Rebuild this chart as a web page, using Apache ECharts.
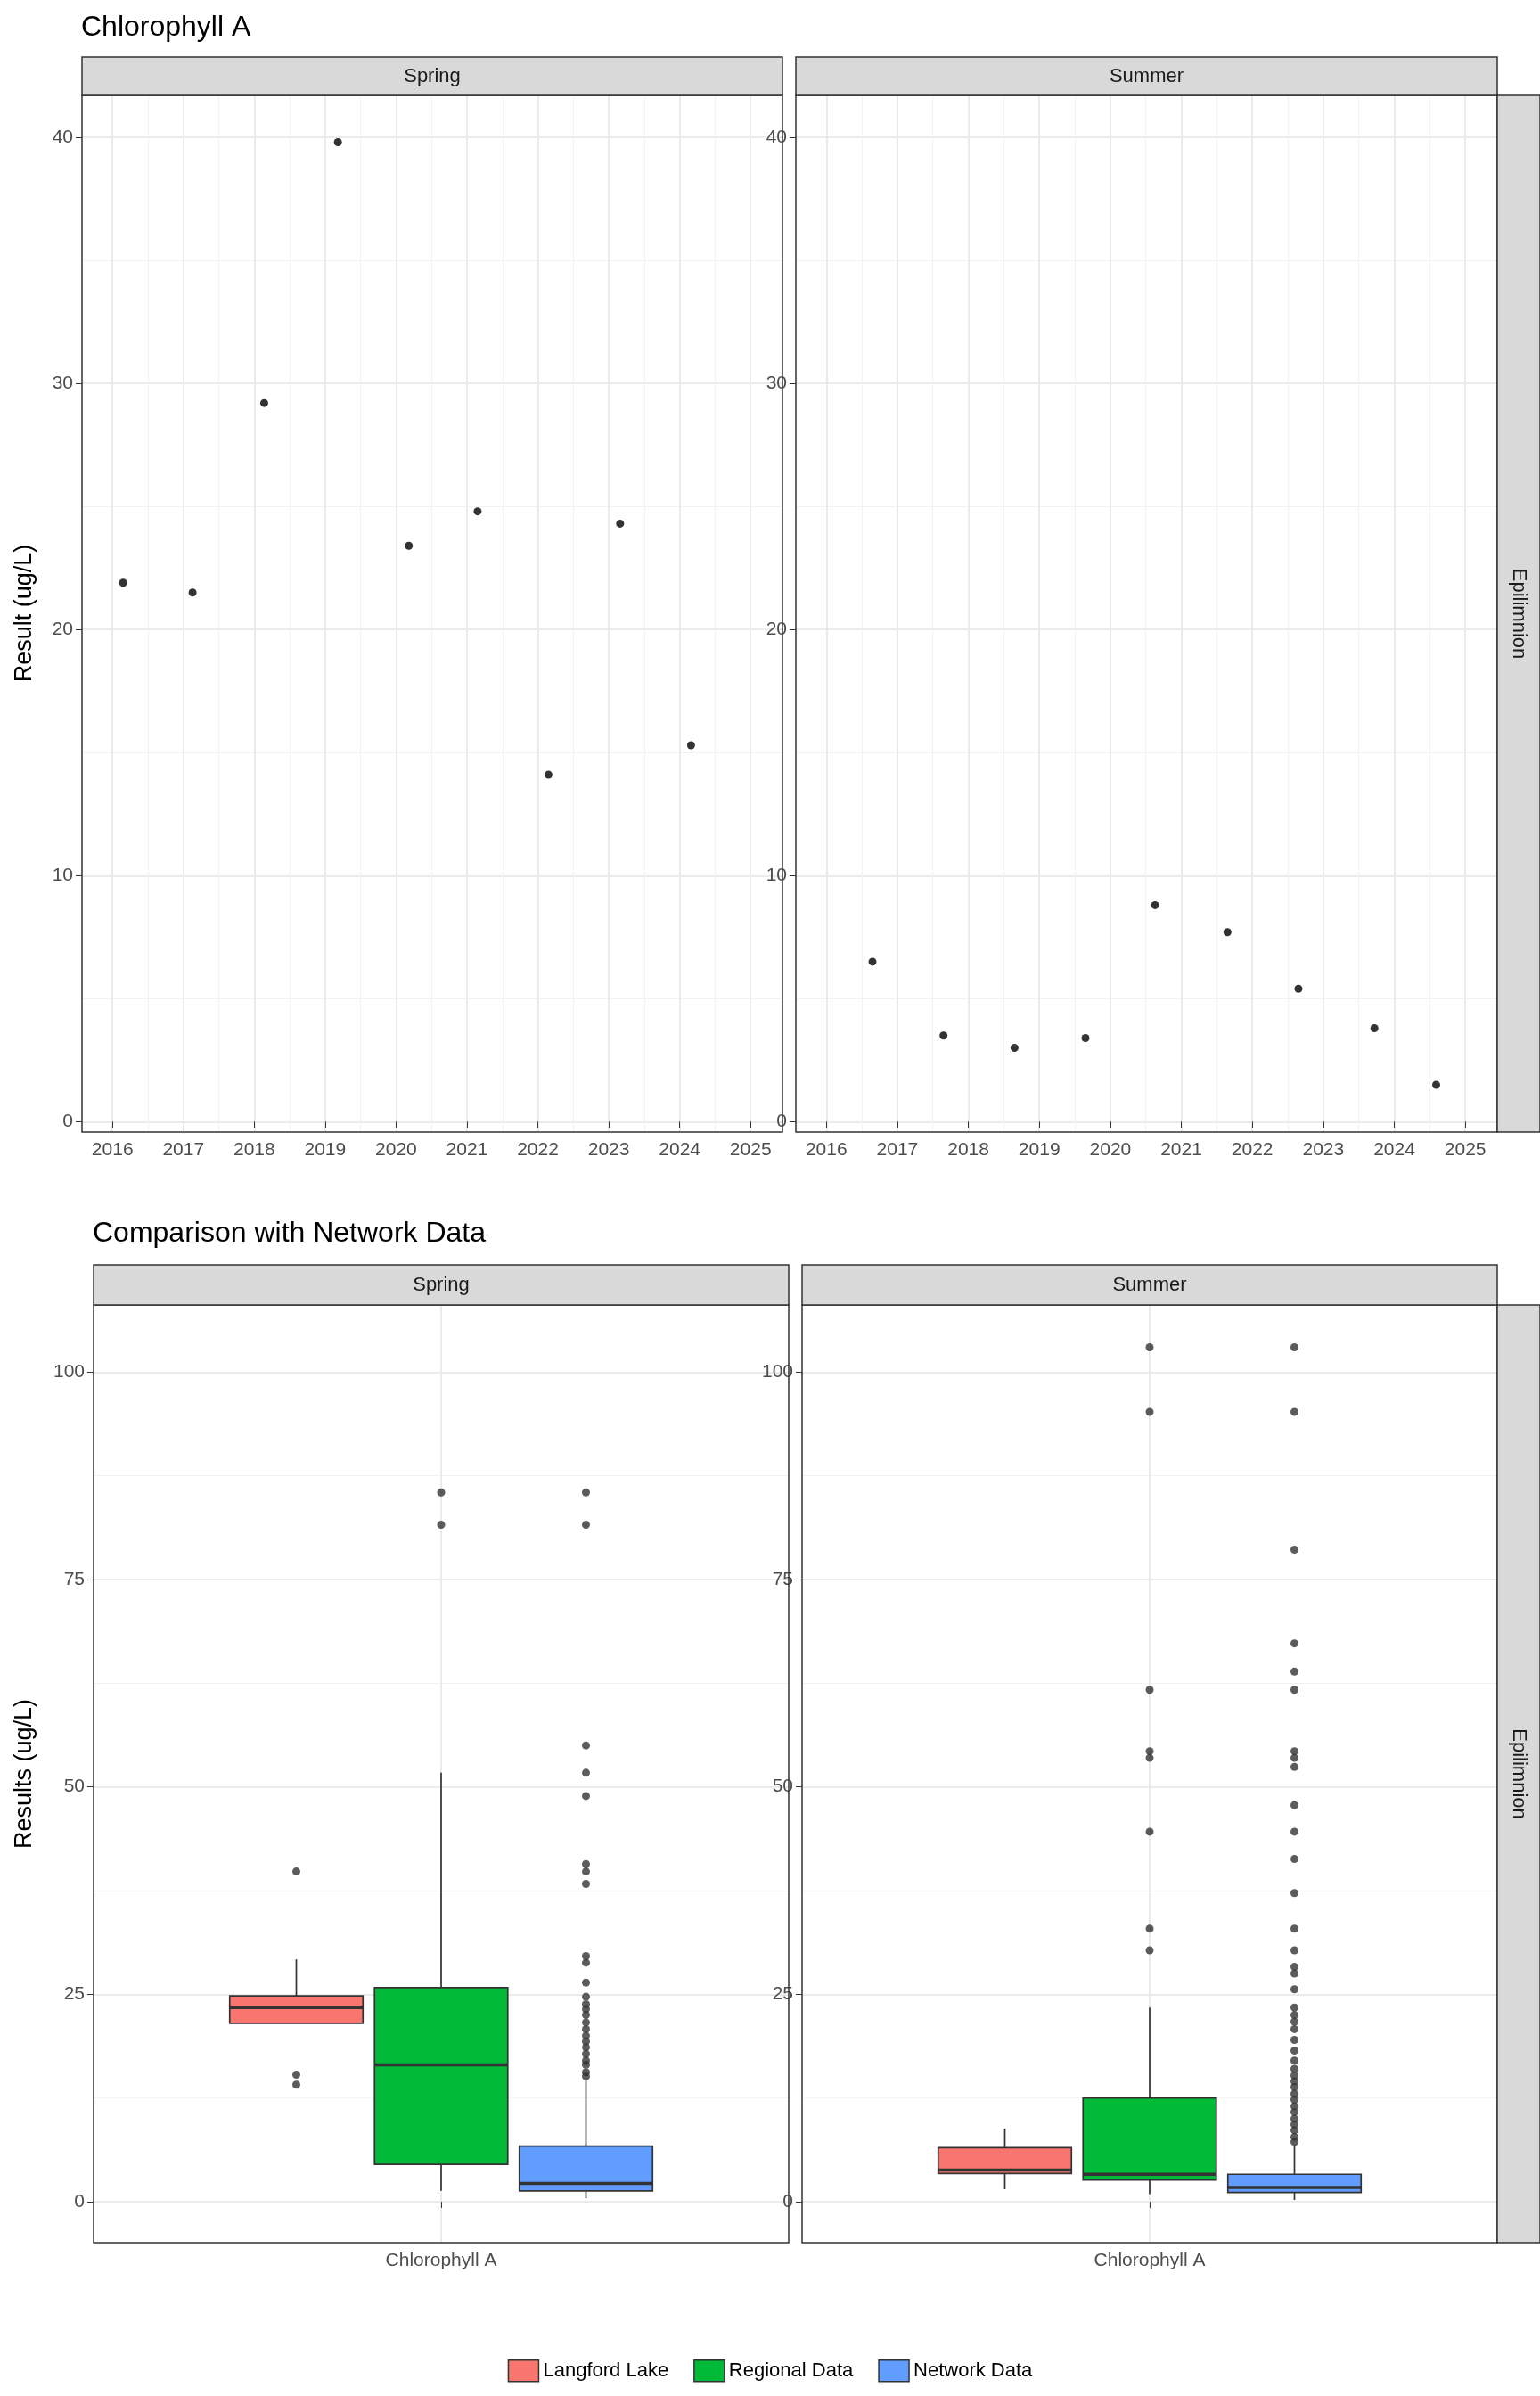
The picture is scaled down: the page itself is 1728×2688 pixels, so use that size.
<!DOCTYPE html>
<html><head><meta charset="utf-8">
<script src="https://cdn.jsdelivr.net/npm/echarts@6/dist/echarts.min.js"></script>
<style>html,body{margin:0;padding:0;background:#fff}#c{width:1728px;height:2688px}</style>
</head><body><div id="c"></div>
<script>
// ---------- data ----------
const years = [2016,2017,2018,2019,2020,2021,2022,2023,2024,2025];
const springDates = [2016.15,2017.13,2018.14,2019.18,2020.18,2021.15,2022.15,2023.16,2024.16];
const springVals  = [21.9,21.5,29.2,39.8,23.4,24.8,14.1,24.3,15.3];
const summerDates = [2016.65,2017.65,2018.65,2019.65,2020.63,2021.65,2022.65,2023.72,2024.59];
const summerVals  = [6.5,3.5,3.0,3.4,8.8,7.7,5.4,3.8,1.5];
const groups = ['Langford Lake','Regional Data','Network Data'];
const colors = ['#F8766D','#00BA38','#619CFF'];
const positions = [0.75,1.0,1.25];
// [min, q1, median, q3, max]
const springBox = [[21.5,21.5,23.4,24.8,29.2],[1.3,4.5,16.5,25.8,51.7],[0.4,1.3,2.2,6.7,14.6]];
const summerBox = [[1.5,3.4,3.8,6.5,8.8],[0.9,2.6,3.3,12.5,23.4],[0.2,1.1,1.7,3.3,6.8]];
const springOut = [
 [14.1,15.3,39.8],
 [85.5,81.6],
 [85.5,81.6,55,51.7,48.9,40.7,39.8,38.3,29.6,28.8,26.4,24.7,23.8,23.2,22.5,21.6,20.8,20.0,19.3,18.6,17.8,17.0,16.5,15.6,15.1]
];
const summerOut = [
 [],
 [103,95.2,61.7,54.3,53.5,44.6,32.9,30.3],
 [103,95.2,78.6,67.3,63.9,61.7,54.3,53.5,52.4,47.8,44.6,41.3,37.2,32.9,30.3,28.3,27.5,25.6,23.4,22.5,21.7,20.8,19.5,18.2,17,16,15.2,14.5,13.8,13,12.3,11.5,10.8,10,9.3,8.6,7.8,7.2]
];
const topTicks = [0,10,20,30,40];
const topMinor = [5,15,25,35];
const botTicks = [0,25,50,75,100];
const botMinor = [12.5,37.5,62.5,87.5];
const halfYears = [2016.5,2017.5,2018.5,2019.5,2020.5,2021.5,2022.5,2023.5,2024.5];

// ---------- layout ----------
const G = [
 {left:92,top:107,width:786,height:1163},
 {left:893,top:107,width:787,height:1163},
 {left:105,top:1464,width:780,height:1052},
 {left:900,top:1464,width:780,height:1052}
];
const grid=[]; G.forEach(g=>{grid.push(g);grid.push(g);});
const lab = {color:'#4D4D4D',fontSize:21,fontFamily:'Liberation Sans, Arial'};
const major = {show:true,lineStyle:{color:'#EBEBEB',width:2}};
const minor = {show:true,lineStyle:{color:'#F2F2F2',width:1}};
const xAxis=[], yAxis=[];
function addPair(gi, xmin,xmax,xmaj,xmin2, ymin,ymax,ymaj,ymin2, xfmt){
  // major
  xAxis.push({type:'value',gridIndex:2*gi,min:xmin,max:xmax,
    axisLine:{show:false},
    axisTick:{show:true,length:7,customValues:xmaj,lineStyle:{color:'#333'}},
    axisLabel:Object.assign({customValues:xmaj,margin:10,formatter:xfmt||(v=>String(v))},lab),
    splitLine:major});
  yAxis.push({type:'value',gridIndex:2*gi,min:ymin,max:ymax,
    axisLine:{show:false},
    axisTick:{show:true,length:7,customValues:ymaj,lineStyle:{color:'#333'}},
    axisLabel:Object.assign({customValues:ymaj,margin:10},lab),
    splitLine:major});
  // minor
  xAxis.push({type:'value',gridIndex:2*gi+1,min:xmin,max:xmax,axisLine:{show:false},
    axisTick:{show:false,customValues:xmin2.length?xmin2:[xmin-1]},axisLabel:{show:false,customValues:xmin2.length?xmin2:[xmin-1]},
    splitLine:xmin2.length?minor:{show:false}});
  yAxis.push({type:'value',gridIndex:2*gi+1,min:ymin,max:ymax,axisLine:{show:false},
    axisTick:{show:false,customValues:ymin2},axisLabel:{show:false,customValues:ymin2},splitLine:minor});
}
addPair(0,2015.57,2025.45,years,halfYears,-0.42,41.7,topTicks,topMinor);
addPair(1,2015.57,2025.45,years,halfYears,-0.42,41.7,topTicks,topMinor);
addPair(2,0.4,1.6,[1],[],-4.95,108.1,botTicks,botMinor,()=> 'Chlorophyll A');
addPair(3,0.4,1.6,[1],[],-4.95,108.1,botTicks,botMinor,()=> 'Chlorophyll A');
// panel 0 major axes idx0, 1 -> idx2, 2 -> idx4, 3 -> idx6
const series=[];
series.push({type:'scatter',xAxisIndex:0,yAxisIndex:0,symbolSize:9,itemStyle:{color:'#000'},
  data:springDates.map((d,i)=>[d,springVals[i]]),z:5});
series.push({type:'scatter',xAxisIndex:2,yAxisIndex:2,symbolSize:9,itemStyle:{color:'#000'},
  data:summerDates.map((d,i)=>[d,summerVals[i]]),z:5});
function boxSeries(axisIdx, boxes, outs){
  groups.forEach((name,k)=>{
    const b=boxes[k];
    series.push({type:'custom',name:name,xAxisIndex:axisIdx,yAxisIndex:axisIdx,z:4,
      itemStyle:{color:colors[k],borderColor:'#333'},
      data:[[positions[k]].concat(b)],
      encode:{x:0,y:[1,2,3,4,5]},
      renderItem:function(params,api){
        const x=api.value(0);
        const w=api.size([0.23,0])[0];
        const p=i=>api.coord([x,api.value(i)]);
        const pmin=p(1),pq1=p(2),pmed=p(3),pq3=p(4),pmax=p(5);
        const ls={stroke:'#333',lineWidth:1.7};
        return {type:'group',children:[
          {type:'line',shape:{x1:pmin[0],y1:pmin[1],x2:pq1[0],y2:pq1[1]},style:ls},
          {type:'line',shape:{x1:pq3[0],y1:pq3[1],x2:pmax[0],y2:pmax[1]},style:ls},
          {type:'rect',shape:{x:pq3[0]-w/2,y:pq3[1],width:w,height:pq1[1]-pq3[1]},
            style:{fill:colors[k],stroke:'#333',lineWidth:1.7}},
          {type:'line',shape:{x1:pmed[0]-w/2,y1:pmed[1],x2:pmed[0]+w/2,y2:pmed[1]},style:{stroke:'#333',lineWidth:3.5}}
        ]};
      }});
    if(outs[k].length) series.push({type:'scatter',xAxisIndex:axisIdx,yAxisIndex:axisIdx,symbolSize:9,z:5,
      itemStyle:{color:'#333'},data:outs[k].map(v=>[positions[k],v])});
  });
}
boxSeries(4,springBox,springOut);
boxSeries(6,summerBox,summerOut);

// ---------- graphics: frames, strips, titles ----------
const graphic=[];
const stripFont='22px Liberation Sans, Arial';
function strip(x,y,w,h,text,vertical){
  graphic.push({type:'rect',shape:{x:x,y:y,width:w,height:h},style:{fill:'#D9D9D9',stroke:'#333',lineWidth:1.5},z:10});
  graphic.push({type:'text',x:x+w/2,y:y+h/2,rotation:vertical?-Math.PI/2:0,
    style:{text:text,font:stripFont,fill:'#1A1A1A',align:'center',verticalAlign:'middle'},z:11});
}
G.forEach(g=>{
  graphic.push({type:'rect',shape:{x:g.left,y:g.top,width:g.width,height:g.height},style:{fill:'none',stroke:'#333',lineWidth:1.5},z:10});
});
strip(92,64,786,43,'Spring');strip(893,64,787,43,'Summer');
strip(1680,107,48,1163,'Epilimnion',true);
strip(105,1419,780,45,'Spring');strip(900,1419,780,45,'Summer');
strip(1680,1464,48,1052,'Epilimnion',true);
graphic.push({type:'text',x:91,y:31,style:{text:'Chlorophyll A',font:'32px Liberation Sans, Arial',fill:'#000',verticalAlign:'middle'}});
graphic.push({type:'text',x:104,y:1384,style:{text:'Comparison with Network Data',font:'32px Liberation Sans, Arial',fill:'#000',verticalAlign:'middle'}});
graphic.push({type:'text',x:28,y:688,rotation:Math.PI/2,style:{text:'Result (ug/L)',font:'27px Liberation Sans, Arial',fill:'#000',align:'center',verticalAlign:'middle'}});
graphic.push({type:'text',x:28,y:1990,rotation:Math.PI/2,style:{text:'Results (ug/L)',font:'27px Liberation Sans, Arial',fill:'#000',align:'center',verticalAlign:'middle'}});

const chart=echarts.init(document.getElementById('c'),null,{renderer:'canvas'});
chart.setOption({
  animation:false,backgroundColor:'#fff',
  grid:grid,xAxis:xAxis,yAxis:yAxis,series:series,graphic:graphic,
  legend:{data:groups.map((g,k)=>({name:g,icon:'rect',itemStyle:{color:colors[k],borderColor:'#333',borderWidth:1.5}})),
    left:'center',top:2642,itemWidth:34,itemHeight:24,itemGap:28,
    textStyle:{fontSize:22,color:'#000',fontFamily:'Liberation Sans, Arial'}}
});
</script></body></html>
